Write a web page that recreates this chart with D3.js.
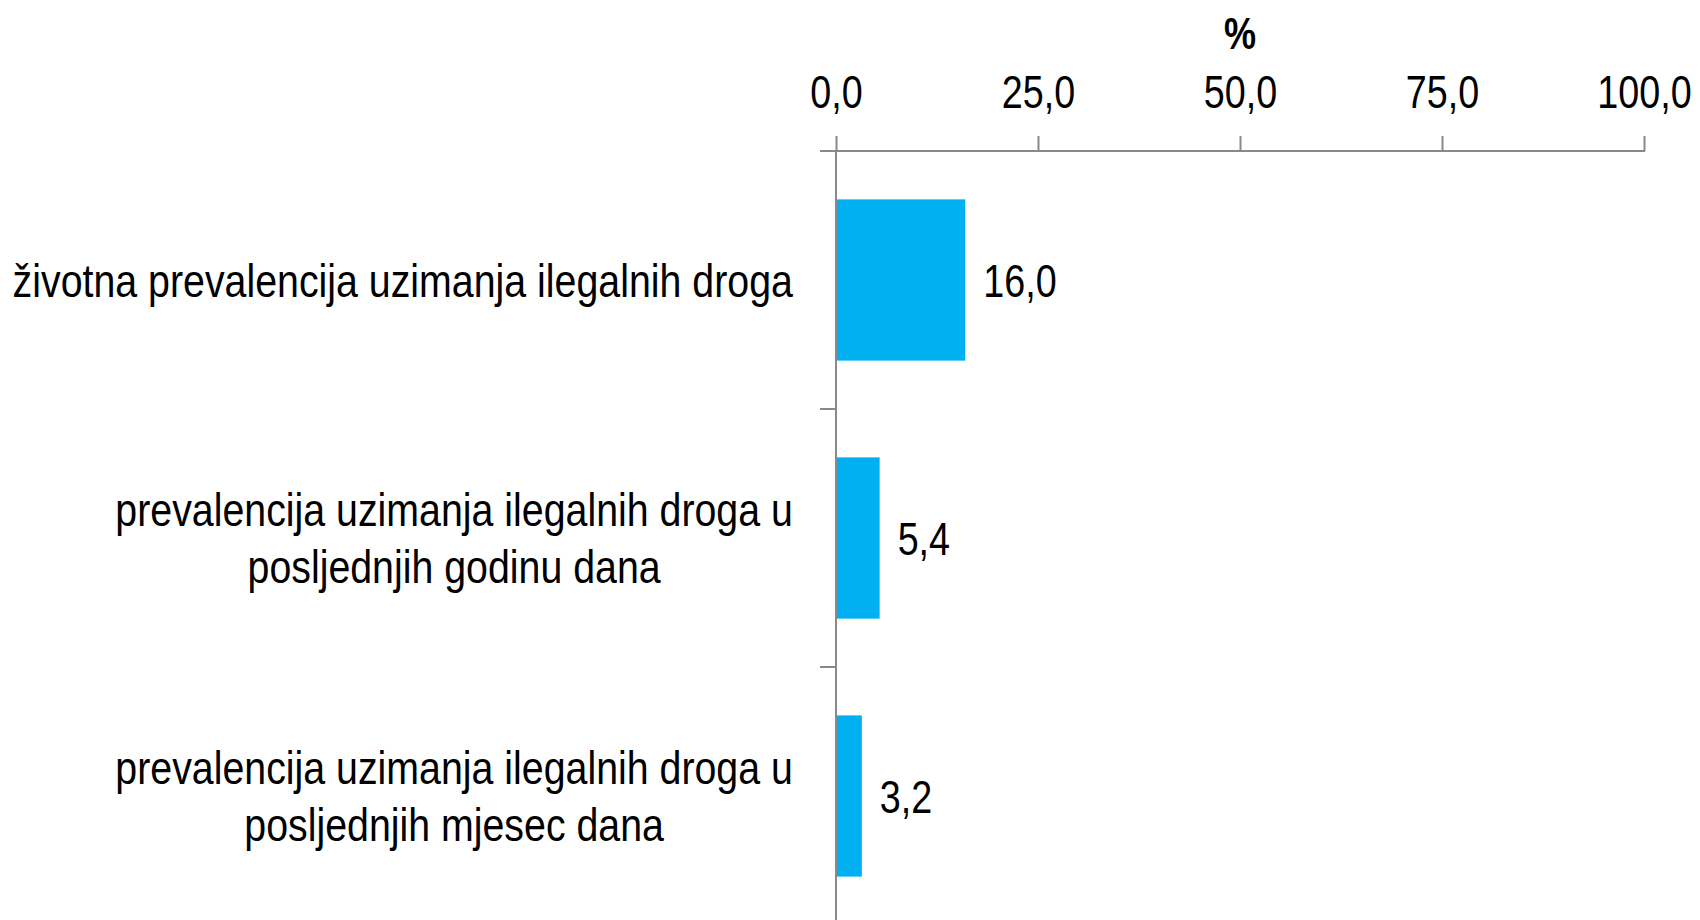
<!DOCTYPE html>
<html>
<head>
<meta charset="utf-8">
<script src="https://cdn.jsdelivr.net/npm/d3@7"></script>
<style>
  body { margin: 0; background: #fff; }
  text { font-family: "Liberation Sans", Arial, sans-serif; fill: #000; }
</style>
</head>
<body>
<div id="chart"></div>
<script>
// Data
let categories = [
  ['životna prevalencija uzimanja ilegalnih droga'],
  ['prevalencija uzimanja ilegalnih droga u', 'posljednjih godinu dana'],
  ['prevalencija uzimanja ilegalnih droga u', 'posljednjih mjesec dana']
];
let values = [16.0, 5.4, 3.2];
let tickValues = [0, 25, 50, 75, 100];
let axisTitle = '%';

// Set up SVG
let svgWidth = 1700;
let svgHeight = 920;

let margin = { top: 151, left: 836, right: 56, bottom: -5 };

let width = svgWidth - margin.left - margin.right;
let height = svgHeight - margin.top - margin.bottom;

// narrow look (Arial Narrow is not installed)
let narrow = 0.82;
let labelNarrow = 0.855;

let fmt = v => d3.format('.1f')(v).replace('.', ',');

let svg = d3.select('#chart').append('svg')
  .attr('width', svgWidth)
  .attr('height', svgHeight);

let chartGroup = svg.append('g')
  .attr('transform', `translate(${margin.left}, ${margin.top})`);

// scales
let xScale = d3.scaleLinear().domain([0, 100]).range([0, width]);
let yScale = d3.scaleBand()
  .domain(d3.range(categories.length))
  .range([0, height])
  .paddingInner(0.375)
  .paddingOuter(0.1875);

let axisColor = '#898989';

// Bars
chartGroup.selectAll('rect.bar')
  .data(values)
  .enter()
  .append('rect')
  .attr('class', 'bar')
  .attr('x', xScale(0))
  .attr('y', (d, i) => yScale(i))
  .attr('width', d => xScale(d) - xScale(0))
  .attr('height', yScale.bandwidth())
  .attr('fill', '#00B0F0');

// Top axis
let topAxis = d3.axisTop(xScale)
  .tickValues(tickValues)
  .tickSize(15)
  .tickPadding(28)
  .tickFormat(fmt);

let xAxis = chartGroup.append('g').call(topAxis);
xAxis.select('.domain').remove();
xAxis.selectAll('.tick line').attr('stroke', axisColor).attr('stroke-width', 2);
xAxis.selectAll('.tick text')
  .attr('font-size', 46)
  .attr('font-family', null)
  .attr('transform', `scale(${narrow},1)`);

// horizontal axis line (extends left as category tick)
chartGroup.append('line')
  .attr('x1', -16).attr('x2', xScale(100) + 1)
  .attr('y1', 0).attr('y2', 0)
  .attr('stroke', axisColor).attr('stroke-width', 2);

// vertical category axis
chartGroup.append('line')
  .attr('x1', 0).attr('x2', 0)
  .attr('y1', 0).attr('y2', svgHeight)
  .attr('stroke', axisColor).attr('stroke-width', 2);

let step = yScale.step();
let separators = d3.range(1, categories.length).map(i => yScale(i) - step * yScale.paddingInner() / 2);
chartGroup.selectAll('line.sep')
  .data(separators)
  .enter()
  .append('line')
  .attr('class', 'sep')
  .attr('x1', -16).attr('x2', 0)
  .attr('y1', d => d).attr('y2', d => d)
  .attr('stroke', axisColor).attr('stroke-width', 2);

// Axis title
svg.append('text')
  .attr('transform', `translate(${margin.left + xScale(50)}, 49) scale(${narrow},1)`)
  .attr('text-anchor', 'middle')
  .attr('font-size', 44)
  .attr('font-weight', 'bold')
  .text(axisTitle);

// Value labels
chartGroup.selectAll('text.value')
  .data(values)
  .enter()
  .append('text')
  .attr('class', 'value')
  .attr('transform', (d, i) => `translate(${xScale(d) + 18}, ${yScale(i) + yScale.bandwidth() / 2}) scale(${narrow},1)`)
  .attr('dy', '0.36em')
  .attr('font-size', 46)
  .text(d => fmt(d));

// Category labels: block right-aligned, lines centered inside
let lineHeight = 57;
let labelRight = -43;
categories.forEach(function(lines, i) {
  let g = chartGroup.append('g');
  let texts = g.selectAll('text')
    .data(lines)
    .enter()
    .append('text')
    .attr('font-size', 46)
    .attr('text-anchor', 'middle')
    .text(d => d);
  let maxW = d3.max(texts.nodes(), n => n.getComputedTextLength()) * labelNarrow;
  let cy = yScale(i) + yScale.bandwidth() / 2;
  let y0 = cy - (lines.length - 1) * lineHeight / 2;
  g.attr('transform', `translate(${labelRight - maxW / 2}, 0)`);
  texts.attr('transform', (d, j) => `translate(0, ${y0 + j * lineHeight}) scale(${labelNarrow},1)`)
    .attr('dy', '0.36em');
});
</script>
</body>
</html>
